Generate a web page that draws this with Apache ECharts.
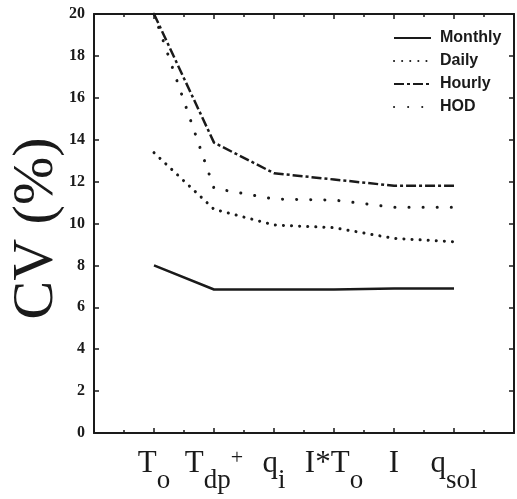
<!DOCTYPE html>
<html>
<head>
<meta charset="utf-8">
<script src="https://cdn.jsdelivr.net/npm/echarts@6/dist/echarts.min.js"></script>
<style>
html, body { margin: 0; padding: 0; background: #fff; }
#chart { width: 517px; height: 499px; }
</style>
</head>
<body>
<div id="chart"></div>
<script>
// x categories ( _ = subscript, ^ = superscript )
var categories = ['T_o', 'T_dp^+', 'q_i', 'I*T_o', 'I', 'q_sol'];
var seriesNames = ['Monthly', 'Daily', 'Hourly', 'HOD'];
var monthly = [8.0, 6.85, 6.85, 6.85, 6.9, 6.9];
var daily = [13.38, 10.68, 9.93, 9.8, 9.29, 9.13];
var hourly = [20.0, 13.86, 12.4, 12.1, 11.8, 11.8];
var hod = [20.0, 11.68, 11.17, 11.12, 10.77, 10.77];
var yTicks = [0, 2, 4, 6, 8, 10, 12, 14, 16, 18, 20];

var ink = '#1a1a1a';

// turn 'T_dp^+' into rich text pieces
function richLabel(s) {
    var main = s, sub = '', sup = '';
    var k = main.indexOf('^');
    if (k >= 0) { sup = main.slice(k + 1); main = main.slice(0, k); }
    k = main.indexOf('_');
    if (k >= 0) { sub = main.slice(k + 1); main = main.slice(0, k); }
    var out = '{m|' + main + '}';
    if (sub) out += '{s|' + sub + '}';
    if (sup) out += '{p|' + sup + '}';
    return out;
}

function toPoints(vals) {
    return vals.map(function (v, i) { return [i + 1, v]; });
}

var myChart = echarts.init(document.getElementById('chart'));

var tickStyle = { show: true, inside: true, length: 5, lineStyle: { color: ink, width: 1.5 } };
var lineAxis = { show: true, onZero: false, lineStyle: { color: ink, width: 2 } };

var option = {
    backgroundColor: '#fff',
    animation: false,
    grid: { left: 94, top: 14, right: 3, bottom: 66, outerBoundsMode: 'none', containLabel: false },
    legend: {
        orient: 'vertical',
        left: 393,
        top: 30,
        padding: 0,
        itemWidth: 37,
        itemHeight: 14,
        itemGap: 7,
        data: seriesNames,
        itemStyle: { opacity: 0 },
        textStyle: { fontFamily: 'Liberation Sans', fontWeight: 'bold', fontSize: 16, color: ink, padding: [0, 0, 0, 4] }
    },
    xAxis: [
        {
            type: 'value',
            position: 'bottom',
            min: 0,
            max: 7,
            interval: 1,
            axisLine: lineAxis,
            axisTick: tickStyle,
            minorTick: { show: true, splitNumber: 2, length: 3, lineStyle: { color: ink, width: 1.5 } },
            splitLine: { show: false },
            axisLabel: {
                margin: 1,
                showMinLabel: true,
                showMaxLabel: true,
                formatter: function (v) {
                    if (v >= 1 && v <= categories.length && Math.round(v) === v) {
                        return richLabel(categories[v - 1]);
                    }
                    return '';
                },
                rich: {
                    m: { fontFamily: 'Liberation Serif', fontSize: 31, lineHeight: 60, color: ink },
                    s: { fontFamily: 'Liberation Serif', fontSize: 27, lineHeight: 24, verticalAlign: 'bottom', color: ink },
                    p: { fontFamily: 'Liberation Serif', fontSize: 22, lineHeight: 22, verticalAlign: 'middle', padding: [0, 0, 12, 0], color: ink }
                }
            }
        },
        {
            type: 'value',
            position: 'top',
            min: 0,
            max: 7,
            interval: 1,
            axisLine: lineAxis,
            axisTick: tickStyle,
            minorTick: { show: true, splitNumber: 2, length: 3, lineStyle: { color: ink, width: 1.5 } },
            splitLine: { show: false },
            axisLabel: { show: false }
        }
    ],
    yAxis: [
        {
            type: 'value',
            position: 'left',
            min: yTicks[0],
            max: yTicks[yTicks.length - 1],
            interval: 2,
            axisLine: lineAxis,
            axisTick: tickStyle,
            splitLine: { show: false },
            axisLabel: {
                margin: 9,
                fontFamily: 'Liberation Serif',
                fontWeight: 'bold',
                fontSize: 16,
                color: ink
            },
            name: 'CV (%)',
            nameLocation: 'middle',
            nameGap: 28,
            nameMoveOverlap: false,
            nameTextStyle: { fontFamily: 'Liberation Serif', fontSize: 58, color: ink, padding: [0, 10, 0, 0] }
        },
        {
            type: 'value',
            position: 'right',
            min: yTicks[0],
            max: yTicks[yTicks.length - 1],
            interval: 2,
            axisLine: lineAxis,
            axisTick: tickStyle,
            splitLine: { show: false },
            axisLabel: { show: false }
        }
    ],
    series: [
        {
            name: 'Monthly',
            type: 'line',
            data: toPoints(monthly),
            symbol: 'none',
            lineStyle: { color: ink, width: 2.5, type: 'solid' },
            itemStyle: { color: ink }
        },
        {
            name: 'Daily',
            type: 'line',
            data: toPoints(daily),
            symbol: 'none',
            lineStyle: { color: ink, width: 3, type: [0.1, 8], cap: 'round' },
            itemStyle: { color: ink }
        },
        {
            name: 'Hourly',
            type: 'line',
            data: toPoints(hourly),
            symbol: 'none',
            lineStyle: { color: ink, width: 2.5, type: [10, 3, 3, 3] },
            itemStyle: { color: ink }
        },
        {
            name: 'HOD',
            type: 'line',
            data: toPoints(hod),
            symbol: 'none',
            lineStyle: { color: ink, width: 3, type: [0.1, 14], cap: 'round' },
            itemStyle: { color: ink }
        }
    ]
};
myChart.setOption(option);
</script>
</body>
</html>
